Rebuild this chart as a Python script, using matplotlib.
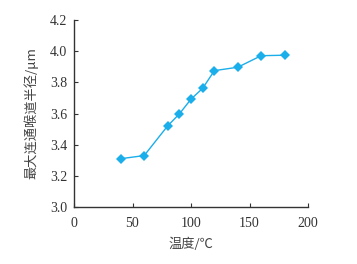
import matplotlib
matplotlib.use('Agg')
import matplotlib.pyplot as plt

# temperature (°C) vs max connected throat radius (µm)
temperature = [40, 60, 80, 90, 100, 110, 120, 140, 160, 180]
throat_radius = [3.31, 3.33, 3.52, 3.597, 3.692, 3.762, 3.875, 3.897, 3.971, 3.974]
x_ticks = [0, 50, 100, 150, 200]
y_ticks = [3.0, 3.2, 3.4, 3.6, 3.8, 4.0, 4.2]

plt.rcParams['font.family'] = 'serif'
plt.rcParams['font.serif'] = ['Liberation Serif', 'DejaVu Serif']
color = '#1aaeea'

fig = plt.figure(figsize=(3.57, 2.64), dpi=100)
ax = fig.add_axes([74 / 357, 1 - 207 / 264, (308 - 74) / 357, (207 - 20) / 264])

ax.plot(temperature, throat_radius, color=color, lw=1.0, marker='D',
        markersize=5.2, markeredgewidth=0)

ax.set_xlim(0, 200)
ax.set_ylim(3.0, 4.2)
ax.set_xticks(x_ticks)
ax.set_yticks(y_ticks)
ax.set_yticklabels([f'{v:.1f}' for v in y_ticks])
ax.tick_params(direction='in', length=3, width=0.8, labelsize=10, colors='#333333',
               pad=5)
ax.tick_params(axis='x', pad=7)
for side in ['top', 'right']:
    ax.spines[side].set_visible(False)
for side in ['left', 'bottom']:
    ax.spines[side].set_color('#333333')
    ax.spines[side].set_linewidth(1.0)

cjk = ['Noto Sans CJK SC', 'DejaVu Sans']
ax.set_xlabel('温度/℃', fontsize=9.5, color='#444444', labelpad=6, family=cjk)
ax.set_ylabel('最大连通喉道半径/μm', fontsize=9.5, color='#444444', labelpad=8, family=cjk)

fig.savefig('out.png', dpi=100)
